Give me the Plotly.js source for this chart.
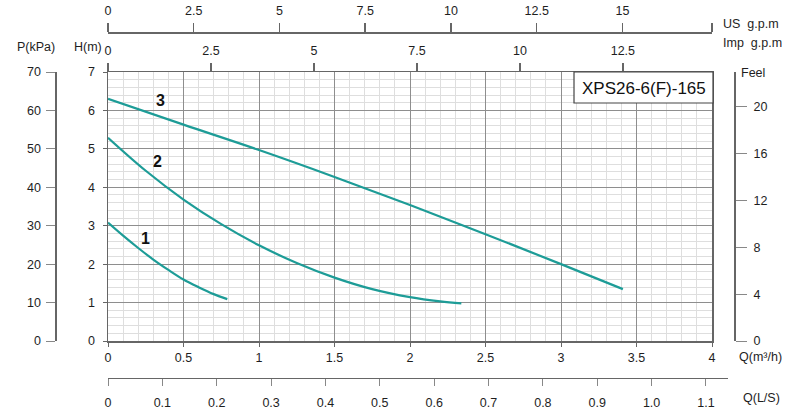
<!DOCTYPE html>
<html>
<head>
<meta charset="utf-8">
<script src="https://cdn.plot.ly/plotly-3.0.1.min.js"></script>
<style>html,body{margin:0;padding:0;background:#fff;}#chart{width:800px;height:410px;}</style>
</head>
<body>
<div id="chart"></div>
<script>
// ---- data ----
const curve1Q = [0, 0.1, 0.2, 0.3, 0.4, 0.5, 0.6, 0.7, 0.79];
const curve1H = [3.08, 2.74, 2.42, 2.12, 1.85, 1.6, 1.4, 1.22, 1.09];
const curve2Q = [0, 0.25, 0.5, 0.75, 1, 1.25, 1.5, 1.75, 2, 2.2, 2.34];
const curve2H = [5.29, 4.43, 3.68, 3.04, 2.49, 2.03, 1.65, 1.35, 1.14, 1.03, 0.98];
const curve3Q = [0, 0.5, 1, 1.5, 2, 2.5, 3, 3.41];
const curve3H = [6.3, 5.63, 4.97, 4.27, 3.54, 2.78, 2.0, 1.35];
const curveNames = ['1', '2', '3'];
const labelQ = [0.25, 0.33, 0.345];
const labelH = [2.68, 4.66, 6.25];

const qTicks = [0, 0.5, 1, 1.5, 2, 2.5, 3, 3.5, 4];
const qTickText = ['0', '0.5', '1', '1.5', '2', '2.5', '3', '3.5', '4'];
const usTicks = [0, 2.5, 5, 7.5, 10, 12.5, 15];
const impTicks = [0, 2.5, 5, 7.5, 10, 12.5];
const lsTicks = [0, 0.1, 0.2, 0.3, 0.4, 0.5, 0.6, 0.7, 0.8, 0.9, 1.0, 1.1];
const lsTickText = ['0', '0.1', '0.2', '0.3', '0.4', '0.5', '0.6', '0.7', '0.8', '0.9', '1.0', '1.1'];
const feetTicks = [0, 4, 8, 12, 16, 20];
const kpaTicks = [0, 10, 20, 30, 40, 50, 60, 70];
const modelName = 'XPS26-6(F)-165';

// unit conversions
const qMax = 4, hMax = 7;
const US_PER_M3H = 4.403, IMP_PER_M3H = 3.666, M3H_PER_LS = 3.6, FT_PER_M = 3.28, KPA_PER_M = 10;

// ---- layout helpers (pixel -> paper) ----
const W = 800, H = 410, ML = 20, MR = 20, MT = 4, MB = 4;
const PW = W - ML - MR, PH = H - MT - MB;
const fx = px => (px - ML) / PW;
const fy = py => (H - MB - py) / PH;

const teal = '#1d9c97';
const axisCol = '#666';
const txtCol = '#1e1e1e';
const fnt = {family: 'Liberation Sans, Arial, sans-serif', size: 12.5, color: txtCol};

const traces = [
  {x: curve1Q, y: curve1H},
  {x: curve2Q, y: curve2H},
  {x: curve3Q, y: curve3H}
].map(t => Object.assign(t, {
  type: 'scatter', mode: 'lines', line: {color: teal, width: 2.2, shape: 'spline', smoothing: 1},
  hoverinfo: 'skip', showlegend: false
}));

// invisible helper traces so that every secondary axis gets drawn
[['x2', 'y'], ['x3', 'y'], ['x4', 'y4'], ['x', 'y2'], ['x', 'y3']].forEach(([xa, ya]) => {
  traces.push({type: 'scatter', mode: 'markers', x: [null], y: [null], xaxis: xa, yaxis: ya,
    marker: {opacity: 0}, hoverinfo: 'skip', showlegend: false});
});

const usMax = qMax * US_PER_M3H;
const lsEnd = 1.14;
const xL = fx(108), xR = fx(712);
const xRls = fx(108 + (712 - 108) * lsEnd / (qMax / M3H_PER_LS));

const layout = {
  width: W, height: H,
  margin: {l: ML, r: MR, t: MT, b: MB, pad: 0},
  paper_bgcolor: '#fff', plot_bgcolor: 'rgba(0,0,0,0)',
  font: fnt,
  showlegend: false,
  xaxis: {
    domain: [xL, xR], range: [0, qMax], tickvals: qTicks, ticktext: qTickText,
    showgrid: true, gridcolor: '#8e8e8e', gridwidth: 1,
    minor: {dtick: 0.1, showgrid: true, gridcolor: '#dedede', gridwidth: 1},
    showline: true, linecolor: axisCol, linewidth: 1.5, mirror: true,
    ticks: 'outside', ticklen: 4, tickcolor: axisCol, zeroline: false,
    tickfont: fnt, anchor: 'y'
  },
  yaxis: {
    domain: [fy(341), fy(72)], range: [0, hMax], dtick: 1,
    showgrid: true, gridcolor: '#8e8e8e', gridwidth: 1,
    minor: {dtick: 0.2, showgrid: true, gridcolor: '#dedede', gridwidth: 1},
    showline: true, linecolor: axisCol, linewidth: 1.5, mirror: true,
    ticks: 'outside', ticklen: 4, tickcolor: axisCol, zeroline: false,
    tickfont: fnt, ticklabelstandoff: 5, anchor: 'x'
  },
  // P(kPa)
  yaxis2: {
    overlaying: 'y', anchor: 'free', position: fx(55.5), side: 'left',
    range: [0, hMax * KPA_PER_M], tickvals: kpaTicks,
    showgrid: false, zeroline: false, showline: true, linecolor: axisCol, linewidth: 2,
    ticks: 'outside', ticklen: 9, tickcolor: '#888', tickfont: fnt, ticklabelstandoff: 2
  },
  // Feel
  yaxis3: {
    overlaying: 'y', anchor: 'free', position: fx(735), side: 'right',
    range: [0, hMax * FT_PER_M], tickvals: feetTicks,
    showgrid: false, zeroline: false, showline: true, linecolor: axisCol, linewidth: 2,
    ticks: 'outside', ticklen: 11, tickcolor: '#888', tickfont: fnt, ticklabelstandoff: 4
  },
  // hidden partner axis for the L/S scale
  yaxis4: {
    domain: [0, 0.02], anchor: 'x4', visible: false, showgrid: false, zeroline: false, range: [0, 1]
  },
  // Imp g.p.m
  xaxis2: {
    overlaying: 'x', anchor: 'y', side: 'top',
    range: [0, qMax * IMP_PER_M3H], tickvals: impTicks,
    showgrid: false, zeroline: false, showline: false,
    ticks: 'outside', ticklen: 8, tickcolor: axisCol, tickwidth: 1.5, tickfont: fnt, ticklabelstandoff: 3
  },
  // US g.p.m
  xaxis3: {
    overlaying: 'x', anchor: 'free', position: fy(32), side: 'top',
    range: [0, usMax], tickvals: usTicks.concat([usMax]), ticktext: usTicks.map(String).concat(['']),
    showgrid: false, zeroline: false, showline: true, linecolor: axisCol, linewidth: 1.5,
    ticks: 'outside', ticklen: 9, tickcolor: axisCol, tickwidth: 1.5, tickfont: fnt, ticklabelstandoff: 3
  },
  // Q(L/S)
  xaxis4: {
    domain: [xL, xRls], anchor: 'free', position: fy(377.5), side: 'bottom',
    range: [0, lsEnd], tickvals: lsTicks, ticktext: lsTickText,
    showgrid: false, zeroline: false, showline: true, linecolor: axisCol, linewidth: 1.5,
    ticks: 'outside', ticklen: 7, tickcolor: '#888', tickfont: fnt, ticklabelstandoff: 6
  },
  shapes: [
    {type: 'rect', xref: 'paper', yref: 'paper', x0: fx(574), x1: fx(713), y0: fy(103), y1: fy(72),
     fillcolor: '#fff', line: {color: '#444', width: 1.2}, layer: 'above'}
  ],
  annotations: [
    {text: modelName, xref: 'paper', yref: 'paper', x: fx(643.5), y: fy(88), xanchor: 'center', yanchor: 'middle',
     showarrow: false, font: {family: fnt.family, size: 17, color: '#111'}},
    {text: 'P(kPa)', xref: 'paper', yref: 'paper', x: fx(36), y: fy(47), xanchor: 'center', yanchor: 'middle', showarrow: false, font: fnt},
    {text: 'H(m)', xref: 'paper', yref: 'paper', x: fx(88), y: fy(47), xanchor: 'center', yanchor: 'middle', showarrow: false, font: fnt},
    {text: 'US  g.p.m', xref: 'paper', yref: 'paper', x: fx(721), y: fy(24), xanchor: 'left', yanchor: 'middle', showarrow: false, font: fnt},
    {text: 'Imp  g.p.m', xref: 'paper', yref: 'paper', x: fx(721), y: fy(43), xanchor: 'left', yanchor: 'middle', showarrow: false, font: fnt},
    {text: 'Feel', xref: 'paper', yref: 'paper', x: fx(739), y: fy(73), xanchor: 'left', yanchor: 'middle', showarrow: false, font: fnt},
    {text: 'Q(m³/h)', xref: 'paper', yref: 'paper', x: fx(737), y: fy(357), xanchor: 'left', yanchor: 'middle', showarrow: false, font: fnt},
    {text: 'Q(L/S)', xref: 'paper', yref: 'paper', x: fx(741), y: fy(398), xanchor: 'left', yanchor: 'middle', showarrow: false, font: fnt}
  ].concat(curveNames.map((n, i) => ({
    text: '<b>' + n + '</b>', xref: 'x', yref: 'y', x: labelQ[i], y: labelH[i],
    xanchor: 'center', yanchor: 'middle', showarrow: false,
    font: {family: fnt.family, size: 16, color: '#111'}
  })))
};

Plotly.newPlot('chart', traces, layout, {displayModeBar: false, staticPlot: true});
</script>
</body>
</html>
